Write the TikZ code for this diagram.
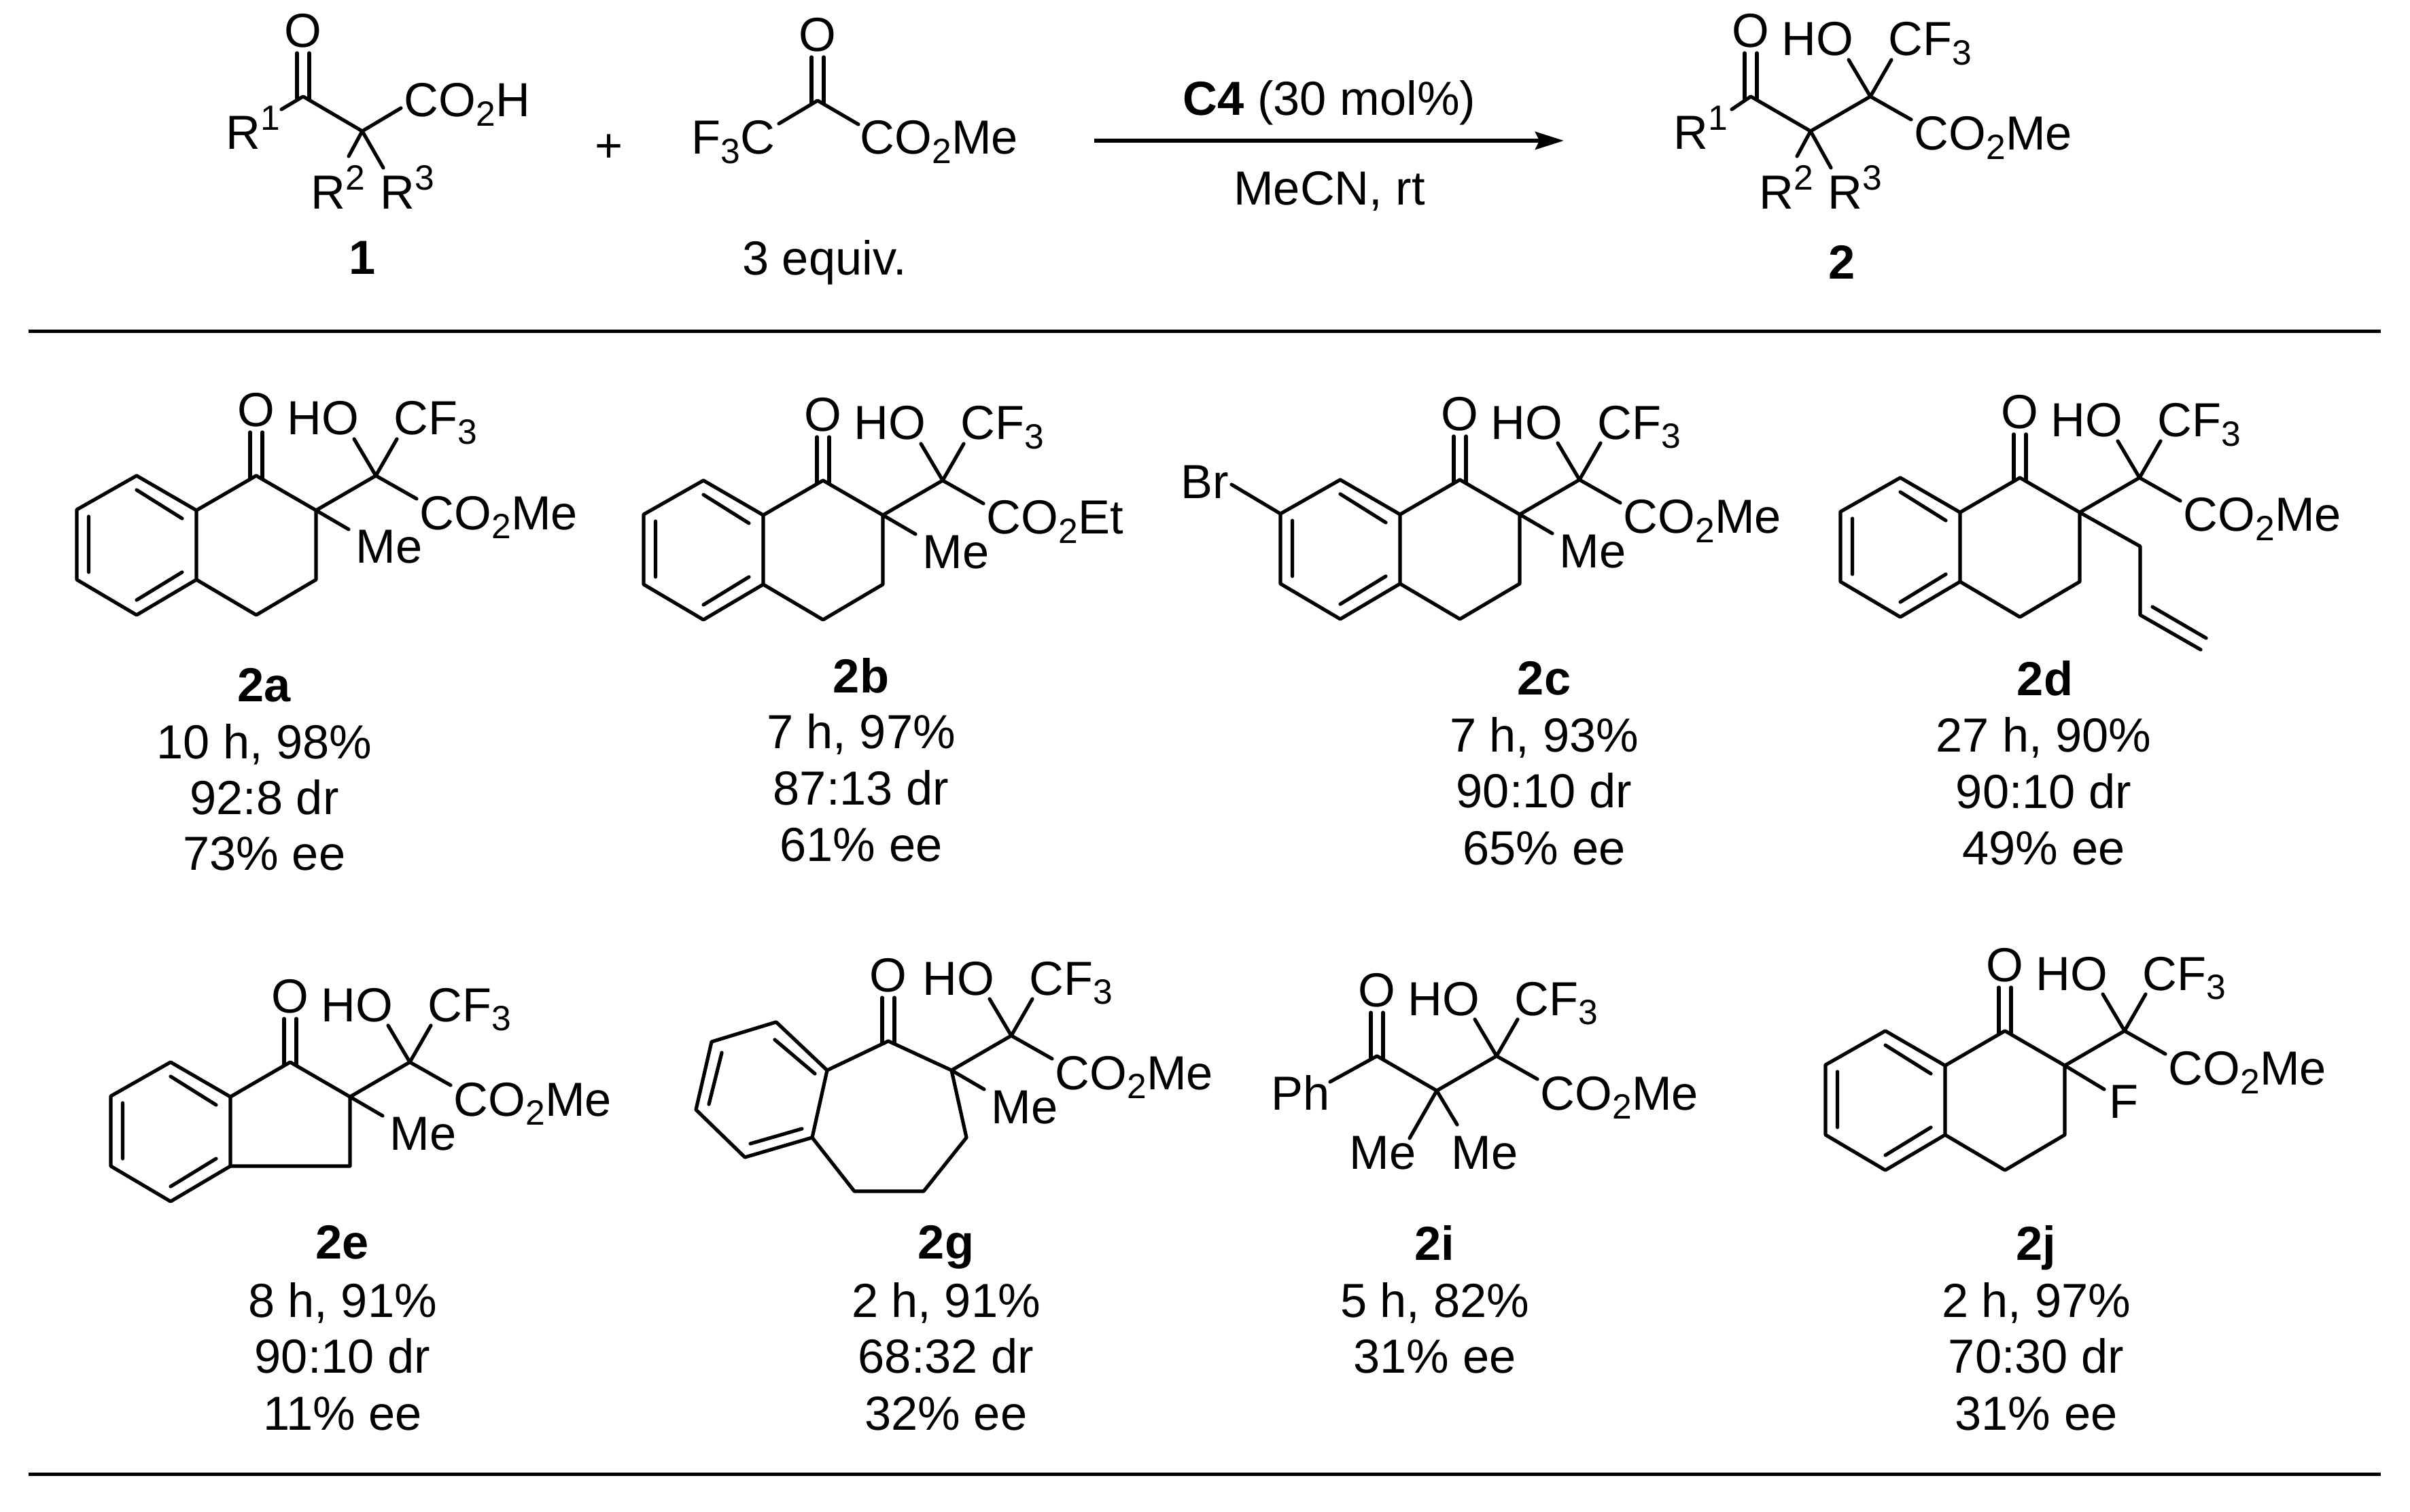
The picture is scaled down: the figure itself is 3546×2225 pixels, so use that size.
\documentclass[tikz,border=0pt]{standalone}
\usepackage{fontspec}
\setmainfont{Liberation Sans}
\usetikzlibrary{arrows.meta}

\newcommand{\subs}[1]{\raisebox{-3.4pt}{\fontsize{12.9}{13}\selectfont #1}}
\newcommand{\supr}[1]{\raisebox{7pt}{\fontsize{12.9}{13}\selectfont #1}}
\newcommand{\ester}{CO\subs{2}Me}

% C=O, drawn at the current origin
\newcommand{\ketone}[1]{
  \coordinate (#1c) at (0,0);
  \node[atom, anchor=center] (#1o) at (0,-97) {O};
  \draw[bond] (-9,-64) -- (-9,4) (9,-64) -- (9,4);
}
% C(OH)(CF3)(ester) branch on the centre at the origin
\newcommand{\carbinol}[2]{
  \coordinate (#1ca) at (0,0);
  \coordinate (#1cb) at (88,-51);
  \coordinate (#1hb) at (56,-105);
  \coordinate (#1fb) at (119,-105);
  \coordinate (#1eb) at (148,-17);
  \node[atom] (#1ho) at (-43,-111) {HO};
  \node[atom] (#1cf) at (114,-111) {CF\subs{3}};
  \node[atom] (#1est) at (152,28) {#2};
  \draw[bond] (#1ca) -- (#1cb) -- (#1eb);
  \draw[bond] (#1hb) -- (#1cb) -- (#1fb);
}
% benzo ring with its fused bonds
\newcommand{\benzo}[1]{
  \coordinate (#1r1) at (-264,-51);
  \coordinate (#1r2) at (-352,-1);
  \coordinate (#1r3) at (-352,102);
  \coordinate (#1r4) at (-264,154);
  \coordinate (#1r5) at (-176,102);
  \coordinate (#1r6) at (-176,0);
  \draw[bond] (#1r1) -- (#1r2) -- (#1r3) -- (#1r4) -- (#1r5) -- (#1r6) -- cycle;
  \draw[bond] (-334.5,9) -- (-334.5,91) (-264,-30) -- (-197,12) (-264,132) -- (-197,91);
  \draw[bond] (#1r6) -- (-88,-51) -- (0,0);
}

\begin{document}
\begin{tikzpicture}[
    x=0.25pt, y=-0.25pt,
    bond/.style={line width=1.3pt, line cap=round, line join=round},
    atom/.style={inner sep=0pt, anchor=base west, font=\fontsize{17.6}{20}\selectfont},
    txt/.style={inner sep=0pt, anchor=base, font=\fontsize{17.6}{20}\selectfont},
    cmpd/.style={txt, font=\fontsize{17.6}{20}\selectfont\bfseries},
    rule/.style={line width=1.25pt}
  ]
  \useasboundingbox (0,0) rectangle (3546,2225);

  % reaction
  \begin{scope}[shift={(446,142)}]
    \ketone{s}
  \end{scope}
  \coordinate (sa) at (533,193);
  \coordinate (sb) at (590,159);
  \coordinate (sr1) at (414,161);
  \coordinate (sr2) at (513,230);
  \coordinate (sr3) at (564,247);
  \draw[bond] (sr1) -- (sc) -- (sa) -- (sb);
  \draw[bond] (sr2) -- (sa) -- (sr3);
  \node[atom] (acid) at (594,172) {CO\subs{2}H};
  \node[atom] (rone) at (332,220) {R\supr{1}};
  \node[atom] (rtwo) at (457,308) {R\supr{2}};
  \node[atom] (rthree) at (559,308) {R\supr{3}};
  \node[cmpd] (lab1) at (533,404) {1};
  \node[txt, anchor=center] (plus) at (896,218) {+};

  \begin{scope}[shift={(1203,148)}]
    \ketone{p}
  \end{scope}
  \coordinate (pl) at (1146,182);
  \coordinate (pr) at (1263,183);
  \draw[bond] (pl) -- (pc) -- (pr);
  \node[atom] (pcf) at (1017,227) {F\subs{3}C};
  \node[atom] (pest) at (1265,227) {\ester};
  \node[txt] (equiv) at (1213,405) {3 equiv.};

  \coordinate (arrs) at (1610,207);
  \coordinate (arre) at (2301,207);
  \draw[line width=1.5pt, -{Stealth[length=10.5pt,width=6.5pt,inset=1.5pt]}] (arrs) -- (arre);
  \node[txt] (cat) at (1956,170) {\textbf{C4} (30 mol\%)};
  \node[txt] (solv) at (1956,302) {MeCN, rt};

  \begin{scope}[shift={(2664,193)}]
    \carbinol{t}{\ester}
    \coordinate (tr2) at (-20,37);
    \coordinate (tr3) at (30,54);
    \draw[bond] (tr2) -- (tca) -- (tr3);
  \end{scope}
  \begin{scope}[shift={(2576,142)}]
    \ketone{u}
  \end{scope}
  \coordinate (ur1) at (2548,161);
  \draw[bond] (ur1) -- (uc) -- (tca);
  \node[atom] (uone) at (2462,220) {R\supr{1}};
  \node[atom] (utwo) at (2588,308) {R\supr{2}};
  \node[atom] (uthree) at (2689,308) {R\supr{3}};
  \node[cmpd] (lab2) at (2710,411) {2};

  \coordinate (ruleal) at (42,488);
  \coordinate (rulear) at (3503,488);
  \draw[rule] (ruleal) -- (rulear);

  % 2a
  \begin{scope}[shift={(465,751)}]
    \carbinol{a}{\ester}
    \benzo{a}
    \draw[bond] (-176,102) -- (-88,154) -- (0,102) -- (0,0) -- (48,28);
    \node[atom] (ame) at (58,78) {Me};
  \end{scope}
  \begin{scope}[shift={(377,700)}]
    \ketone{ak}
  \end{scope}
  \node[cmpd] (lab2a) at (389,1032) {2a};
  \node[txt] (a1) at (389,1116) {10 h, 98\%};
  \node[txt] (a2) at (389,1198) {92:8 dr};
  \node[txt] (a3) at (389,1280) {73\% ee};

  % 2b
  \begin{scope}[shift={(1299,758)}]
    \carbinol{b}{CO\subs{2}Et}
    \benzo{b}
    \draw[bond] (-176,102) -- (-88,154) -- (0,102) -- (0,0) -- (48,28);
    \node[atom] (bme) at (58,78) {Me};
  \end{scope}
  \begin{scope}[shift={(1211,707)}]
    \ketone{bk}
  \end{scope}
  \node[cmpd] (lab2b) at (1267,1019) {2b};
  \node[txt] (b1) at (1267,1101) {7 h, 97\%};
  \node[txt] (b2) at (1267,1184) {87:13 dr};
  \node[txt] (b3) at (1267,1267) {61\% ee};

  % 2c
  \begin{scope}[shift={(2236,757)}]
    \carbinol{c}{\ester}
    \benzo{c}
    \draw[bond] (-176,102) -- (-88,154) -- (0,102) -- (0,0) -- (48,28);
    \draw[bond] (cr2) -- (-424,-44);
    \node[atom] (cme) at (58,78) {Me};
    \node[atom] (cbr) at (-499,-24) {Br};
  \end{scope}
  \begin{scope}[shift={(2148,706)}]
    \ketone{ck}
  \end{scope}
  \node[cmpd] (lab2c) at (2272,1022) {2c};
  \node[txt] (c1) at (2272,1106) {7 h, 93\%};
  \node[txt] (c2) at (2272,1188) {90:10 dr};
  \node[txt] (c3) at (2272,1272) {65\% ee};

  % 2d
  \begin{scope}[shift={(3060,754)}]
    \carbinol{d}{\ester}
    \benzo{d}
    \draw[bond] (-176,102) -- (-88,154) -- (0,102) -- (0,0) -- (89,50) -- (89,151) -- (178,202);
    \draw[bond] (107,139) -- (186,185);
  \end{scope}
  \begin{scope}[shift={(2972,703)}]
    \ketone{dk}
  \end{scope}
  \node[cmpd] (lab2d) at (3009,1023) {2d};
  \node[txt] (d1) at (3007,1106) {27 h, 90\%};
  \node[txt] (d2) at (3007,1189) {90:10 dr};
  \node[txt] (d3) at (3007,1272) {49\% ee};

  % 2e
  \begin{scope}[shift={(515,1614)}]
    \carbinol{e}{\ester}
    \benzo{e}
    \draw[bond] (-176,102) -- (0,102) -- (0,0) -- (48,28);
    \node[atom] (eme) at (58,78) {Me};
  \end{scope}
  \begin{scope}[shift={(427,1563)}]
    \ketone{ek}
  \end{scope}
  \node[cmpd] (lab2e) at (504,1852) {2e};
  \node[txt] (e1) at (504,1938) {8 h, 91\%};
  \node[txt] (e2) at (504,2020) {90:10 dr};
  \node[txt] (e3) at (504,2104) {11\% ee};

  % 2g
  \coordinate (g1) at (1142,1504);
  \coordinate (g2) at (1047,1533);
  \coordinate (g3) at (1024,1633);
  \coordinate (g4) at (1096,1703);
  \coordinate (g5) at (1195,1674);
  \coordinate (g6) at (1217,1575);
  \coordinate (g7) at (1307,1532);
  \coordinate (g8) at (1400,1575);
  \coordinate (g9) at (1422,1674);
  \coordinate (g10) at (1359,1753);
  \coordinate (g11) at (1257,1753);
  \draw[bond] (g1) -- (g2) -- (g3) -- (g4) -- (g5) -- (g6) -- cycle;
  \draw[bond] (g6) -- (g7) -- (g8) -- (g9) -- (g10) -- (g11) -- (g5);
  \draw[bond] (1140,1530) -- (1199,1580) (1062,1549) -- (1043,1625) (1104,1683) -- (1180,1661);
  \begin{scope}[shift={(1400,1575)}]
    \carbinol{g}{\ester}
    \draw[bond] (0,0) -- (48,28);
    \node[atom] (gme) at (58,78) {Me};
  \end{scope}
  \begin{scope}[shift={(1307,1532)}]
    \ketone{gk}
  \end{scope}
  \node[cmpd] (lab2g) at (1392,1852) {2g};
  \node[txt] (g21) at (1392,1938) {2 h, 91\%};
  \node[txt] (g22) at (1392,2020) {68:32 dr};
  \node[txt] (g23) at (1392,2104) {32\% ee};

  % 2i
  \begin{scope}[shift={(2114,1605)}]
    \carbinol{i}{\ester}
    \draw[bond] (-40,70) -- (0,0) -- (30,50);
    \node[atom] (ime) at (-129,115) {Me};
    \node[atom] (imf) at (21,115) {Me};
  \end{scope}
  \begin{scope}[shift={(2026,1554)}]
    \ketone{ik}
  \end{scope}
  \coordinate (iph) at (1957,1592);
  \draw[bond] (iph) -- (ikc) -- (ica);
  \node[atom] (iphn) at (1870,1633) {Ph};
  \node[cmpd] (lab2i) at (2111,1854) {2i};
  \node[txt] (i1) at (2111,1938) {5 h, 82\%};
  \node[txt] (i2) at (2111,2020) {31\% ee};

  % 2j
  \begin{scope}[shift={(3038,1568)}]
    \carbinol{j}{\ester}
    \benzo{j}
    \draw[bond] (-176,102) -- (-88,154) -- (0,102) -- (0,0) -- (58,35);
    \node[atom] (jf) at (65,77) {F};
  \end{scope}
  \begin{scope}[shift={(2950,1517)}]
    \ketone{jk}
  \end{scope}
  \node[cmpd] (lab2j) at (2996,1854) {2j};
  \node[txt] (j1) at (2996,1938) {2 h, 97\%};
  \node[txt] (j2) at (2996,2020) {70:30 dr};
  \node[txt] (j3) at (2996,2104) {31\% ee};

  \coordinate (rulebl) at (42,2169);
  \coordinate (rulebr) at (3503,2169);
  \draw[rule] (rulebl) -- (rulebr);
\end{tikzpicture}
\end{document}
